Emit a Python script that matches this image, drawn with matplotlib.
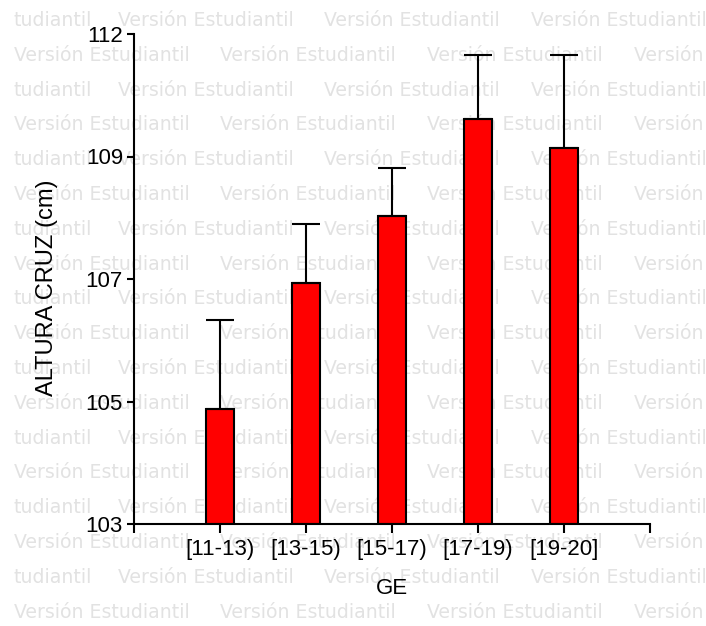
import numpy as np
import matplotlib
matplotlib.use("Agg")
import matplotlib.pyplot as plt

# data
categories = ["[11-13)", "[13-15)", "[15-17)", "[17-19)", "[19-20]"]
means = [104.87, 106.93, 108.03, 109.62, 109.14]
errors = [1.46, 0.96, 0.79, 1.03, 1.51]
ytick_values = [103, 105, 107, 109, 111]
ytick_labels = ["103", "105", "107", "109", "112"]
watermark = "Versión Estudiantil"

W, H = 706, 626
plt.rcParams["font.family"] = ["Liberation Sans", "DejaVu Sans"]

fig = plt.figure(figsize=(W / 100, H / 100), dpi=100)
ax = fig.add_axes([134 / W, 102 / H, 516 / W, 490 / H])
ax.patch.set_alpha(0)
ax.set_zorder(2)

# watermark rows behind the plot
wm_kw = dict(family="DejaVu Sans", fontsize=13.6, color="#e2e2e2", va="baseline", ha="left", zorder=0)
period = 206.5
for i in range(18):
    yb = 1 - (26 + i * 34.8) / H
    if i % 2 == 0:
        fig.text(13 / W, yb, "tudiantil", **wm_kw)
        starts = [118 + k * period for k in range(3)]
    else:
        starts = [14 + k * period for k in range(4)]
    for xs in starts:
        fig.text(xs / W, yb, watermark, **wm_kw)

x = np.arange(1, len(categories) + 1)
heights = np.array(means) - 103
ax.bar(x, heights, bottom=103, width=0.32, color="#ff0000", edgecolor="black", linewidth=1.5, zorder=2)
ax.errorbar(x, means, yerr=[np.zeros(len(errors)), errors], fmt="none", ecolor="black",
            elinewidth=1.5, capsize=10, capthick=1.5, zorder=3)

ax.set_xlim(0, 6)
ax.set_ylim(103, 111)
ax.set_xticks(np.arange(0, 7))
ax.set_xticklabels([""] + categories + [""])
ax.set_yticks(ytick_values)
ax.set_yticklabels(ytick_labels)

for s in ["top", "right"]:
    ax.spines[s].set_visible(False)
for s in ["left", "bottom"]:
    ax.spines[s].set_linewidth(1.5)

ax.tick_params(axis="x", length=6.5, width=1.5, pad=4.5, labelsize=16)
ax.tick_params(axis="y", length=5, width=1.5, pad=3, labelsize=16)

ax.set_xlabel("GE", fontsize=16, va="top")
ax.xaxis.set_label_coords(0.5, -0.11)
ax.set_ylabel("ALTURA CRUZ (cm)", fontsize=17, va="center")
ax.yaxis.set_label_coords(-0.169, 0.482)

fig.savefig("out.png", dpi=100)
